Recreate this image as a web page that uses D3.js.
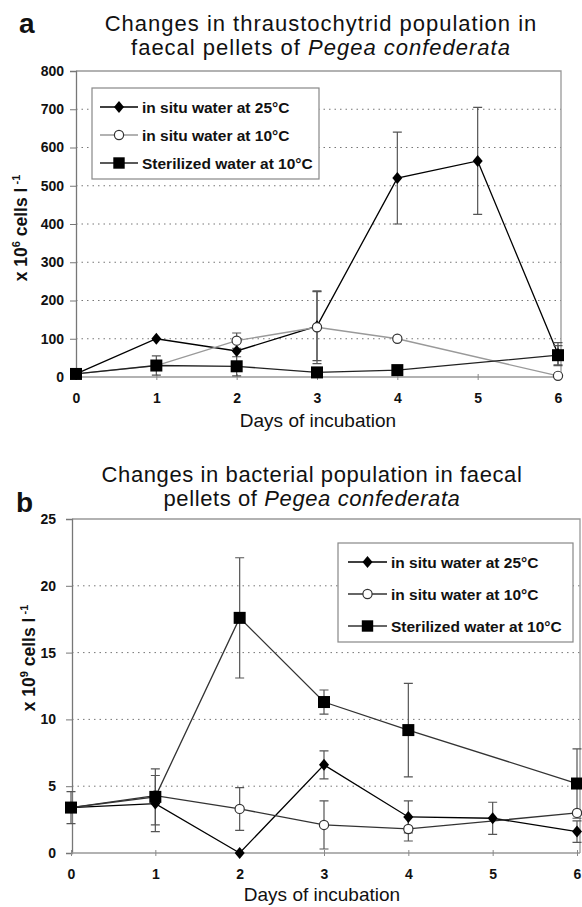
<!DOCTYPE html>
<html>
<head>
<meta charset="utf-8">
<script src="https://cdn.jsdelivr.net/npm/d3@7"></script>
<style>
  body { margin: 0; background: #fff; }
  text { font-family: "Liberation Sans", Arial, sans-serif; fill: #111; }
</style>
</head>
<body>
<div id="chart"></div>
<script>
// shared
const days = [0, 1, 2, 3, 4, 5, 6];
const seriesNames = ['in situ water at 25\u00b0C', 'in situ water at 10\u00b0C', 'Sterilized water at 10\u00b0C'];

// panel a: thraustochytrids, x 10^6 cells per litre
const thraustoTicks = [0, 100, 200, 300, 400, 500, 600, 700, 800];
const thrausto25 = [8, 100, 68, 133, 520, 565, 60];
const thrausto25Err = [0, 0, 0, 90, 120, 140, 30];
const thrausto10 = [8, 30, 95, 130, 100, null, 3];
const thrausto10Err = [0, 0, 20, 95, 0, 0, 0];
const thraustoSter = [8, 30, 28, 12, 18, null, 57];
const thraustoSterErr = [0, 25, 25, 0, 0, 0, 25];

// panel b: bacteria, x 10^9 cells per litre
const bacteriaTicks = [0, 5, 10, 15, 20, 25];
const bacteria25 = [3.4, 3.7, 0, 6.6, 2.7, 2.6, 1.6];
const bacteria25Err = [1.2, 2.1, 0, 1.05, 1.2, 1.2, 0.8];
const bacteria10 = [3.4, 4.3, 3.3, 2.1, 1.8, null, 3.0];
const bacteria10Err = [0, 0, 1.6, 1.8, 0.9, 0, 0];
const bacteriaSter = [3.4, 4.2, 17.6, 11.3, 9.2, null, 5.2];
const bacteriaSterErr = [0, 2.1, 4.5, 0.9, 3.5, 0, 2.6];

const svg = d3.select('#chart').append('svg')
    .attr('width', 582)
    .attr('height', 907);

function marker(g, kind, x, y, s) {
    if (kind === 'diamond') {
        g.append('path')
            .attr('d', `M${x},${y - 6 * s}L${x + 5 * s},${y}L${x},${y + 6 * s}L${x - 5 * s},${y}Z`)
            .attr('fill', '#000');
    } else if (kind === 'circle') {
        g.append('circle')
            .attr('cx', x).attr('cy', y).attr('r', 4.6 * s)
            .attr('fill', '#fff').attr('stroke', '#333').attr('stroke-width', 1.2);
    } else {
        g.append('rect')
            .attr('x', x - 6 * s).attr('y', y - 6 * s)
            .attr('width', 12 * s).attr('height', 12 * s)
            .attr('fill', '#000');
    }
}

function drawPanel(cfg) {
    const x = d3.scaleLinear().domain([0, 6]).range(cfg.xRange);
    const y = d3.scaleLinear().domain([cfg.ticks[0], cfg.ticks[cfg.ticks.length - 1]]).range(cfg.yRange);
    const g = svg.append('g');
    const x0 = cfg.axisX, right = cfg.frameRight;

    // grid
    g.append('g').selectAll('line')
        .data(cfg.ticks.slice(1, -1))
        .join('line')
        .attr('x1', x0).attr('x2', right)
        .attr('y1', d => y(d)).attr('y2', d => y(d))
        .attr('stroke', '#777')
        .attr('stroke-width', 1)
        .attr('stroke-dasharray', '1.5,4');

    // frame
    g.append('path')
        .attr('d', `M${x0},${y.range()[1]}H${right}V${y.range()[0]}`)
        .attr('fill', 'none')
        .attr('stroke', '#999')
        .attr('stroke-width', 1.3);

    // y axis
    const yAxis = g.append('g')
        .attr('transform', `translate(${x0},0)`)
        .call(d3.axisLeft(y).tickValues(cfg.ticks).tickSize(6).tickPadding(cfg.tickPad));
    yAxis.select('.domain').attr('stroke', '#777').attr('stroke-width', 1.3);
    yAxis.selectAll('.tick line').attr('stroke', '#777');
    yAxis.selectAll('.tick text')
        .attr('font-size', 14).attr('font-weight', 'bold')
        .attr('font-family', '"Liberation Sans", Arial, sans-serif').attr('fill', '#111');

    // x axis
    const xAxis = g.append('g')
        .attr('transform', `translate(0,${y(0)})`)
        .call(d3.axisBottom(x).tickValues(days).tickFormat(d3.format('d'))
            .tickSizeInner(3).tickSizeOuter(0).tickPadding(13));
    xAxis.select('.domain').attr('d', `M${x0},0H${right}`).attr('stroke', '#999').attr('stroke-width', 1.3);
    xAxis.selectAll('.tick line').attr('y1', -3).attr('stroke', '#888');
    xAxis.selectAll('.tick text')
        .attr('font-size', 14).attr('font-weight', 'bold')
        .attr('font-family', '"Liberation Sans", Arial, sans-serif').attr('fill', '#111');

    const line = d3.line()
        .x(d => x(d.day))
        .y(d => y(d.v));

    const series = cfg.series.map((s, i) => ({
        kind: ['diamond', 'circle', 'square'][i],
        color: cfg.lineColors[i],
        pts: days.map((day, j) => ({ day, v: s.values[j], e: s.errors[j] }))
    }));

    // lines (skip missing points, connect the rest)
    series.forEach(s => {
        g.append('path')
            .datum(s.pts.filter(d => d.v !== null))
            .attr('d', line)
            .attr('fill', 'none')
            .attr('stroke', s.color)
            .attr('stroke-width', 1.3);
    });

    // error bars
    series.forEach(s => {
        s.pts.filter(d => d.v !== null && d.e > 0).forEach(d => {
            const cx = x(d.day), top = y(d.v + d.e), bot = y(Math.max(d.v - d.e, 0));
            g.append('path')
                .attr('d', `M${cx},${top}V${bot}M${cx - 4.5},${top}H${cx + 4.5}M${cx - 4.5},${bot}H${cx + 4.5}`)
                .attr('fill', 'none')
                .attr('stroke', '#555')
                .attr('stroke-width', 1.2);
        });
    });

    // markers: circles sit on top of diamonds, squares on top of both
    series.forEach(s => {
        s.pts.filter(d => d.v !== null).forEach(d => marker(g, s.kind, x(d.day), y(d.v), 1));
    });

    // legend
    const lg = g.append('g');
    lg.append('rect')
        .attr('x', cfg.legend.x).attr('y', cfg.legend.y)
        .attr('width', cfg.legend.w).attr('height', cfg.legend.h)
        .attr('fill', '#fff').attr('stroke', '#888').attr('stroke-width', 1.2);
    series.forEach((s, i) => {
        const ly = cfg.legend.rows[i];
        const lx = cfg.legend.x + cfg.legend.sampleStart;
        lg.append('line')
            .attr('x1', lx).attr('x2', lx + cfg.legend.sampleLen)
            .attr('y1', ly).attr('y2', ly)
            .attr('stroke', s.color).attr('stroke-width', 1.3);
        marker(lg, s.kind, lx + cfg.legend.sampleLen / 2, ly, s.kind === 'square' ? 0.95 : 1);
        lg.append('text')
            .attr('x', lx + cfg.legend.sampleLen + 4)
            .attr('y', ly + 5.5)
            .attr('font-size', 15.5)
            .attr('font-weight', 'bold')
            .text(seriesNames[i]);
    });

    // titles
    cfg.title.forEach((t, i) => {
        const tt = g.append('text')
            .attr('x', cfg.titleX).attr('y', cfg.titleY[i])
            .attr('text-anchor', 'middle')
            .attr('font-size', 22)
            .attr('letter-spacing', cfg.titleSpacing);
        t.forEach(part => tt.append('tspan')
            .attr('font-style', part.italic ? 'italic' : 'normal')
            .text(part.text));
    });
    g.append('text')
        .attr('x', cfg.letterX).attr('y', cfg.letterY)
        .attr('font-size', 28).attr('font-weight', 'bold')
        .text(cfg.letter);

    // axis titles
    g.append('text')
        .attr('x', cfg.xTitleX).attr('y', cfg.xTitleY)
        .attr('text-anchor', 'middle')
        .attr('font-size', 19)
        .text('Days of incubation');

    const yt = g.append('text')
        .attr('transform', `translate(${cfg.yTitleX},${cfg.yTitleY}) rotate(-90)`)
        .attr('text-anchor', 'middle')
        .attr('font-size', 17.5)
        .attr('font-weight', 'bold');
    yt.append('tspan').text('x 10');
    yt.append('tspan').attr('font-size', 11).attr('dy', -7).text(cfg.exponent);
    yt.append('tspan').attr('dy', 7).text(' cells l');
    yt.append('tspan').attr('font-size', 11).attr('dy', -7).text(' -1');
}

drawPanel({
    ticks: thraustoTicks,
    xRange: [76, 558], yRange: [377, 71],
    axisX: 76, frameRight: 561, tickPad: 6,
    lineColors: ['#000', '#999', '#222'],
    series: [
        { values: thrausto25, errors: thrausto25Err },
        { values: thrausto10, errors: thrausto10Err },
        { values: thraustoSter, errors: thraustoSterErr }
    ],
    legend: { x: 92, y: 88, w: 227, h: 91, rows: [107, 135, 163], sampleStart: 8, sampleLen: 38 },
    title: [
        [{ text: 'Changes in  thraustochytrid population in' }],
        [{ text: 'faecal pellets of ' }, { text: 'Pegea confederata', italic: true }]
    ],
    titleX: 321, titleY: [31, 55], titleSpacing: 1,
    letter: 'a', letterX: 19, letterY: 33,
    xTitleX: 318, xTitleY: 427,
    yTitleX: 27, yTitleY: 228, exponent: '6'
});

drawPanel({
    ticks: bacteriaTicks,
    xRange: [71, 577], yRange: [853, 519],
    axisX: 72, frameRight: 580, tickPad: 10,
    lineColors: ['#000', '#333', '#333'],
    series: [
        { values: bacteria25, errors: bacteria25Err },
        { values: bacteria10, errors: bacteria10Err },
        { values: bacteriaSter, errors: bacteriaSterErr }
    ],
    legend: { x: 338, y: 543, w: 235, h: 99, rows: [562, 594, 626], sampleStart: 10, sampleLen: 39 },
    title: [
        [{ text: 'Changes in bacterial population in faecal' }],
        [{ text: 'pellets of ' }, { text: 'Pegea confederata', italic: true }]
    ],
    titleX: 312, titleY: [482, 506], titleSpacing: 0.6,
    letter: 'b', letterX: 16, letterY: 512,
    xTitleX: 322, xTitleY: 901,
    yTitleX: 35, yTitleY: 658, exponent: '9'
});
</script>
</body>
</html>
